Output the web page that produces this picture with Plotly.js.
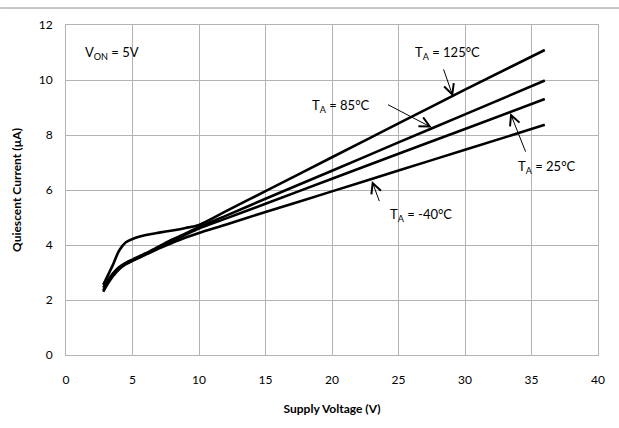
<!DOCTYPE html>
<html><head><meta charset="utf-8">
<script src="https://cdn.plot.ly/plotly-3.0.1.min.js"></script>
<style>html,body{margin:0;padding:0;background:#fff}#c{width:619px;height:428px}</style>
</head><body><div id="c"></div>
<script>
const voltage = [2.8, 3, 3.5, 4, 4.5, 5, 6, 7, 8, 9, 10, 12, 15, 20, 25, 30, 36];
const iq125 = [2.55, 2.75, 3.25, 3.8, 4.1, 4.22, 4.36, 4.45, 4.53, 4.62, 4.73, 5.22, 5.96, 7.19, 8.42, 9.65, 11.09];
const iq85  = [2.45, 2.6, 2.95, 3.2, 3.35, 3.47, 3.7, 3.95, 4.2, 4.42, 4.65, 5.06, 5.68, 6.70, 7.73, 8.75, 9.98];
const iq25  = [2.35, 2.52, 2.9, 3.15, 3.32, 3.44, 3.68, 3.92, 4.15, 4.38, 4.6, 4.96, 5.5, 6.41, 7.32, 8.22, 9.31];
const iqm40 = [2.3, 2.48, 2.85, 3.12, 3.3, 3.42, 3.65, 3.88, 4.08, 4.27, 4.44, 4.74, 5.2, 5.95, 6.71, 7.46, 8.37];
const seriesNames = ['T<sub>A</sub> = 125°C', 'T<sub>A</sub> = 85°C', 'T<sub>A</sub> = 25°C', 'T<sub>A</sub> = -40°C'];
const xTicks = [0, 5, 10, 15, 20, 25, 30, 35, 40];
const yTicks = [0, 2, 4, 6, 8, 10, 12];

const F = 'Lato, "Open Sans", sans-serif';
const series = [iq125, iq85, iq25, iqm40];
const traces = series.map((s, i) => ({
  x: voltage, y: s, type: 'scatter', mode: 'lines', name: seriesNames[i],
  line: {color: '#000', width: 2.6, shape: 'spline', smoothing: 0.8}, hoverinfo: 'skip'
}));

function lbl(text, x, y, xanchor) {
  return {text, x, y, xref: 'x', yref: 'y', showarrow: false, xanchor: xanchor || 'center', yanchor: 'middle',
    font: {family: F, size: 13, color: '#000'}};
}
function arr(x, y, ax, ay) {
  return {text: '', x, y, ax, ay, xref: 'x', yref: 'y', axref: 'x', ayref: 'y', showarrow: true,
    arrowhead: 5, arrowsize: 2, arrowwidth: 1, arrowcolor: '#000', standoff: 0};
}
const anns = [
  lbl('V<sub>ON</sub> = 5V', 1.25, 11.0, 'left'),
  lbl(seriesNames[0], 28.7, 11.0),
  lbl(seriesNames[1], 20.7, 9.04),
  lbl(seriesNames[2], 36.2, 6.85),
  lbl(seriesNames[3], 26.7, 5.1),
  arr(29.1, 9.4, 28.35, 10.44),
  arr(27.5, 8.27, 24.1, 9.13),
  arr(33.4, 8.8, 34.6, 7.34),
  arr(23.0, 6.33, 23.6, 5.54)
];

const layout = {
  width: 619, height: 428,
  margin: {l: 66, r: 21, t: 25, b: 73},
  paper_bgcolor: '#fff', plot_bgcolor: '#fff',
  showlegend: false,
  xaxis: {range: [0, 40], tickvals: xTicks, ticktext: xTicks.map(String), showgrid: true, gridcolor: '#b3b3b3', gridwidth: 1,
    zeroline: false, showline: true, linecolor: '#b3b3b3', linewidth: 1, mirror: true, ticks: '', ticklen: 0,
    tickfont: {family: F, size: 12, color: '#000'}, ticklabelstandoff: 14,
    title: {text: '<b>Supply Voltage (V)</b>', font: {family: F, size: 12, color: '#000'}, standoff: 18}},
  yaxis: {range: [0, 12], tickvals: yTicks, ticktext: yTicks.map(String), showgrid: true, gridcolor: '#b3b3b3', gridwidth: 1,
    zeroline: false, showline: true, linecolor: '#b3b3b3', linewidth: 1, mirror: true, ticks: '', ticklen: 0,
    tickfont: {family: F, size: 12, color: '#000'}, ticklabelstandoff: 10,
    title: {text: '<b>Quiescent Current (µA)</b>', font: {family: F, size: 12, color: '#000'}, standoff: 14}},
  annotations: anns,
  shapes: [{type: 'line', xref: 'paper', yref: 'paper', x0: -0.124, x1: 1.04, y0: 1.0515, y1: 1.0515,
    line: {color: '#8c8c8c', width: 1}}]
};
Plotly.newPlot('c', traces, layout, {staticPlot: true, displayModeBar: false});
</script></body></html>
